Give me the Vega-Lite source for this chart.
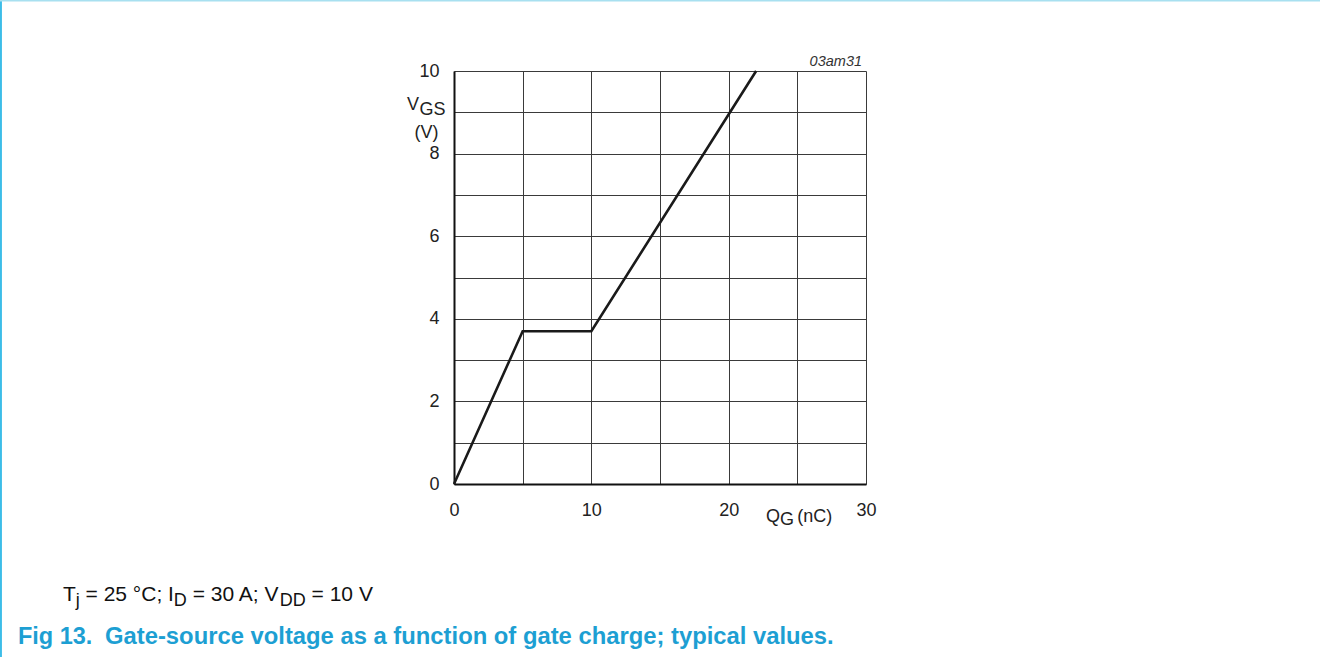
{
  "$schema": "https://vega.github.io/schema/vega-lite/v6.json",
  "width": 412,
  "height": 413,
  "autosize": {"type": "none"},
  "padding": {"left": 454, "top": 71, "right": 454, "bottom": 173},
  "background": "white",
  "config": {"view": {"stroke": null}, "font": "Liberation Sans"},
  "layer": [
    {
      "data": {"values": [
        {"qg": 0, "vgs": 0},
        {"qg": 5, "vgs": 3.7},
        {"qg": 10, "vgs": 3.7},
        {"qg": 22, "vgs": 10}
      ]},
      "mark": {"type": "line", "color": "#1a1a1a", "strokeWidth": 2.6, "clip": false},
      "encoding": {
        "x": {"field": "qg", "type": "quantitative",
          "scale": {"domain": [0, 30], "nice": false, "zero": false},
          "axis": {"title": null, "values": [0, 5, 10, 15, 20, 25, 30],
            "labelExpr": "datum.value % 10 === 0 ? datum.label : ''",
            "grid": true, "gridColor": "#3a3a3a", "gridWidth": 1, "gridOpacity": 1,
            "ticks": false, "domainColor": "#111111", "domainWidth": 2,
            "labelFont": "Liberation Sans", "labelFontSize": 18, "labelColor": "#222222",
            "labelPadding": 17, "labelFlush": false, "labelOverlap": false}},
        "y": {"field": "vgs", "type": "quantitative",
          "scale": {"domain": [0, 10], "nice": false, "zero": false},
          "axis": {"title": null, "values": [0, 1, 2, 3, 4, 5, 6, 7, 8, 9, 10],
            "labelExpr": "datum.value % 2 === 0 ? datum.label : ''",
            "grid": true, "gridColor": "#3a3a3a", "gridWidth": 1, "gridOpacity": 1,
            "ticks": false, "domainColor": "#111111", "domainWidth": 2,
            "labelFont": "Liberation Sans", "labelFontSize": 18, "labelColor": "#222222",
            "labelPadding": 15, "labelFlush": false, "labelOverlap": false}}
      }
    },
    {
      "data": {"values": [{}]},
      "mark": {"type": "rule", "color": "#3dbde8", "strokeWidth": 2, "clip": false},
      "encoding": {"x": {"datum": -32.99, "type": "quantitative"}, "y": {"datum": 11.72, "type": "quantitative"}, "y2": {"datum": -4.2}}
    },
    {
      "data": {"values": [{}]},
      "mark": {"type": "rule", "color": "#a8e0f0", "strokeWidth": 2, "clip": false},
      "encoding": {"x": {"datum": -33.1, "type": "quantitative"}, "x2": {"datum": 63.2}, "y": {"datum": 11.71, "type": "quantitative"}}
    },
    {
      "data": {"values": [{}]},
      "mark": {"type": "text", "text": "03am31", "font": "Liberation Sans", "fontSize": 14.5, "fontStyle": "italic", "color": "#333333", "align": "right", "baseline": "middle", "clip": false},
      "encoding": {"x": {"datum": 29.71, "type": "quantitative"}, "y": {"datum": 10.22, "type": "quantitative"}}
    },
    {
      "data": {"values": [{}]},
      "mark": {"type": "text", "text": "V", "font": "Liberation Sans", "fontSize": 18, "color": "#222222", "align": "left", "baseline": "alphabetic", "clip": false},
      "encoding": {"x": {"datum": -3.42, "type": "quantitative"}, "y": {"datum": 9.06, "type": "quantitative"}}
    },
    {
      "data": {"values": [{}]},
      "mark": {"type": "text", "text": "GS", "font": "Liberation Sans", "fontSize": 18, "color": "#222222", "align": "left", "baseline": "alphabetic", "clip": false},
      "encoding": {"x": {"datum": -2.51, "type": "quantitative"}, "y": {"datum": 8.94, "type": "quantitative"}}
    },
    {
      "data": {"values": [{}]},
      "mark": {"type": "text", "text": "(V)", "font": "Liberation Sans", "fontSize": 18, "color": "#222222", "align": "center", "baseline": "middle", "clip": false},
      "encoding": {"x": {"datum": -2.0, "type": "quantitative"}, "y": {"datum": 8.51, "type": "quantitative"}}
    },
    {
      "data": {"values": [{}]},
      "mark": {"type": "text", "text": "Q", "font": "Liberation Sans", "fontSize": 18, "color": "#222222", "align": "left", "baseline": "middle", "clip": false},
      "encoding": {"x": {"datum": 22.72, "type": "quantitative"}, "y": {"datum": -0.8, "type": "quantitative"}}
    },
    {
      "data": {"values": [{}]},
      "mark": {"type": "text", "text": "G", "font": "Liberation Sans", "fontSize": 18, "color": "#222222", "align": "left", "baseline": "middle", "clip": false},
      "encoding": {"x": {"datum": 23.74, "type": "quantitative"}, "y": {"datum": -0.88, "type": "quantitative"}}
    },
    {
      "data": {"values": [{}]},
      "mark": {"type": "text", "text": "(nC)", "font": "Liberation Sans", "fontSize": 18, "color": "#222222", "align": "left", "baseline": "middle", "clip": false},
      "encoding": {"x": {"datum": 24.99, "type": "quantitative"}, "y": {"datum": -0.8, "type": "quantitative"}}
    },
    {
      "data": {"values": [{}]},
      "mark": {"type": "text", "text": "T", "font": "Liberation Sans", "fontSize": 21, "color": "#111111", "align": "left", "baseline": "alphabetic", "clip": false},
      "encoding": {"x": {"datum": -28.47, "type": "quantitative"}, "y": {"datum": -2.845, "type": "quantitative"}}
    },
    {
      "data": {"values": [{}]},
      "mark": {"type": "text", "text": "j", "font": "Liberation Sans", "fontSize": 18, "color": "#111111", "align": "left", "baseline": "alphabetic", "clip": false},
      "encoding": {"x": {"datum": -27.54, "type": "quantitative"}, "y": {"datum": -2.954, "type": "quantitative"}}
    },
    {
      "data": {"values": [{}]},
      "mark": {"type": "text", "text": "= 25 °C; I", "font": "Liberation Sans", "fontSize": 21, "color": "#111111", "align": "left", "baseline": "alphabetic", "clip": false},
      "encoding": {"x": {"datum": -26.83, "type": "quantitative"}, "y": {"datum": -2.845, "type": "quantitative"}}
    },
    {
      "data": {"values": [{}]},
      "mark": {"type": "text", "text": "D", "font": "Liberation Sans", "fontSize": 18, "color": "#111111", "align": "left", "baseline": "alphabetic", "clip": false},
      "encoding": {"x": {"datum": -20.4, "type": "quantitative"}, "y": {"datum": -2.954, "type": "quantitative"}}
    },
    {
      "data": {"values": [{}]},
      "mark": {"type": "text", "text": "= 30 A; V", "font": "Liberation Sans", "fontSize": 21, "color": "#111111", "align": "left", "baseline": "alphabetic", "clip": false},
      "encoding": {"x": {"datum": -19.03, "type": "quantitative"}, "y": {"datum": -2.845, "type": "quantitative"}}
    },
    {
      "data": {"values": [{}]},
      "mark": {"type": "text", "text": "DD", "font": "Liberation Sans", "fontSize": 18, "color": "#111111", "align": "left", "baseline": "alphabetic", "clip": false},
      "encoding": {"x": {"datum": -12.69, "type": "quantitative"}, "y": {"datum": -2.954, "type": "quantitative"}}
    },
    {
      "data": {"values": [{}]},
      "mark": {"type": "text", "text": "= 10 V", "font": "Liberation Sans", "fontSize": 21, "color": "#111111", "align": "left", "baseline": "alphabetic", "clip": false},
      "encoding": {"x": {"datum": -10.37, "type": "quantitative"}, "y": {"datum": -2.845, "type": "quantitative"}}
    },
    {
      "data": {"values": [{}]},
      "mark": {"type": "text", "text": "Fig 13.", "font": "Liberation Sans", "fontSize": 23.5, "fontWeight": "bold", "color": "#1d9fd3", "align": "left", "baseline": "alphabetic", "clip": false},
      "encoding": {"x": {"datum": -31.75, "type": "quantitative"}, "y": {"datum": -3.884, "type": "quantitative"}}
    },
    {
      "data": {"values": [{}]},
      "mark": {"type": "text", "text": "Gate-source voltage as a function of gate charge; typical values.", "font": "Liberation Sans", "fontSize": 23.8, "fontWeight": "bold", "color": "#1d9fd3", "align": "left", "baseline": "alphabetic", "clip": false},
      "encoding": {"x": {"datum": -25.41, "type": "quantitative"}, "y": {"datum": -3.884, "type": "quantitative"}}
    }
  ]
}
